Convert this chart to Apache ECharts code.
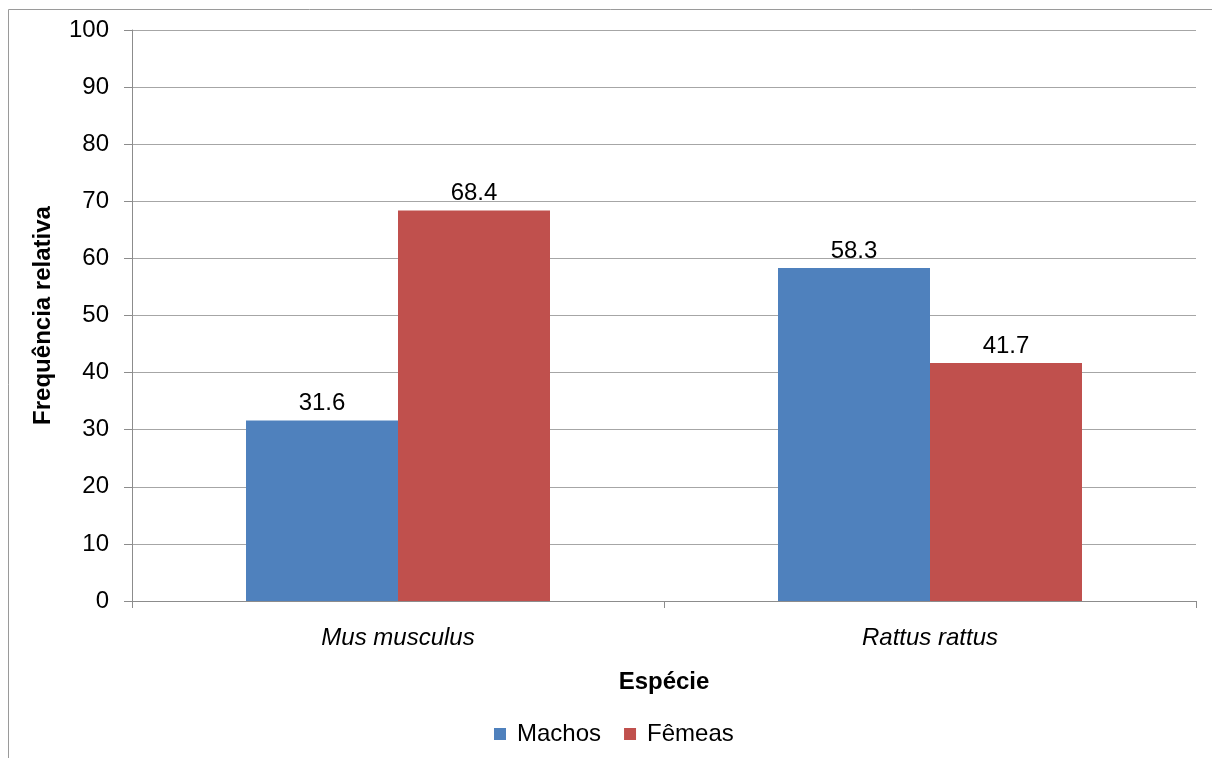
<!DOCTYPE html>
<html>
<head>
<meta charset="utf-8">
<script src="https://cdn.jsdelivr.net/npm/echarts@6/dist/echarts.min.js"></script>
<style>
html,body{margin:0;padding:0;background:#fff;}
#chart{width:1212px;height:758px;}
</style>
</head>
<body>
<div id="chart"></div>
<script>
// Relative frequency of males and females by species
const species = ['Mus musculus', 'Rattus rattus'];
const machos = [31.6, 58.3];
const femeas = [68.4, 41.7];
const yTicks = { min: 0, max: 100, interval: 10 };

const FONT = '"Liberation Sans", Arial, sans-serif';
const SIZE = 24;
const chart = echarts.init(document.getElementById('chart'), null, { renderer: 'canvas' });

const labelStyle = {
  show: true,
  position: 'top',
  distance: 5,
  color: '#000',
  fontSize: SIZE,
  fontFamily: FONT
};

chart.setOption({
  animation: false,
  backgroundColor: '#fff',
  graphic: [{
    type: 'rect',
    shape: { x: 8.5, y: 9.5, width: 1230, height: 780 },
    style: { fill: 'none', stroke: '#9a9a9a', lineWidth: 1 },
    silent: true
  }],
  grid: { left: 132, right: 16, top: 30, bottom: 157, containLabel: false },
  legend: {
    bottom: 7,
    left: 489,
    itemWidth: 12,
    itemHeight: 12,
    itemGap: 23,
    icon: 'rect',
    textStyle: { fontSize: SIZE, fontFamily: FONT, color: '#000', padding: [0, 0, 0, 6] },
    data: ['Machos', 'Fêmeas']
  },
  xAxis: {
    type: 'category',
    data: species,
    name: 'Espécie',
    nameLocation: 'middle',
    nameGap: 69,
    nameTextStyle: { fontSize: SIZE, fontWeight: 'bold', fontFamily: FONT, color: '#000' },
    axisLine: { lineStyle: { color: '#8c8c8c', width: 1 } },
    axisTick: { show: true, length: 7, lineStyle: { color: '#8c8c8c' } },
    axisLabel: { fontSize: SIZE, fontStyle: 'italic', fontFamily: FONT, color: '#000', margin: 25 },
    splitLine: { show: false }
  },
  yAxis: {
    type: 'value',
    min: yTicks.min,
    max: yTicks.max,
    interval: yTicks.interval,
    name: 'Frequência relativa',
    nameLocation: 'middle',
    nameRotate: 90,
    nameGap: 77,
    nameTextStyle: { fontSize: SIZE, fontWeight: 'bold', fontFamily: FONT, color: '#000' },
    axisLine: { show: true, lineStyle: { color: '#8c8c8c', width: 1 } },
    axisTick: { show: true, length: 8, inside: false, lineStyle: { color: '#8c8c8c' } },
    axisLabel: { fontSize: SIZE, fontFamily: FONT, color: '#000', margin: 23 },
    splitLine: { show: true, lineStyle: { color: '#a6a6a6', width: 1 } }
  },
  series: [
    {
      name: 'Machos',
      type: 'bar',
      data: machos,
      barWidth: 152,
      barGap: '0%',
      itemStyle: { color: '#4F81BD' },
      label: labelStyle
    },
    {
      name: 'Fêmeas',
      type: 'bar',
      data: femeas,
      barWidth: 152,
      barGap: '0%',
      itemStyle: { color: '#C0504D' },
      label: labelStyle
    }
  ]
});
</script>
</body>
</html>
